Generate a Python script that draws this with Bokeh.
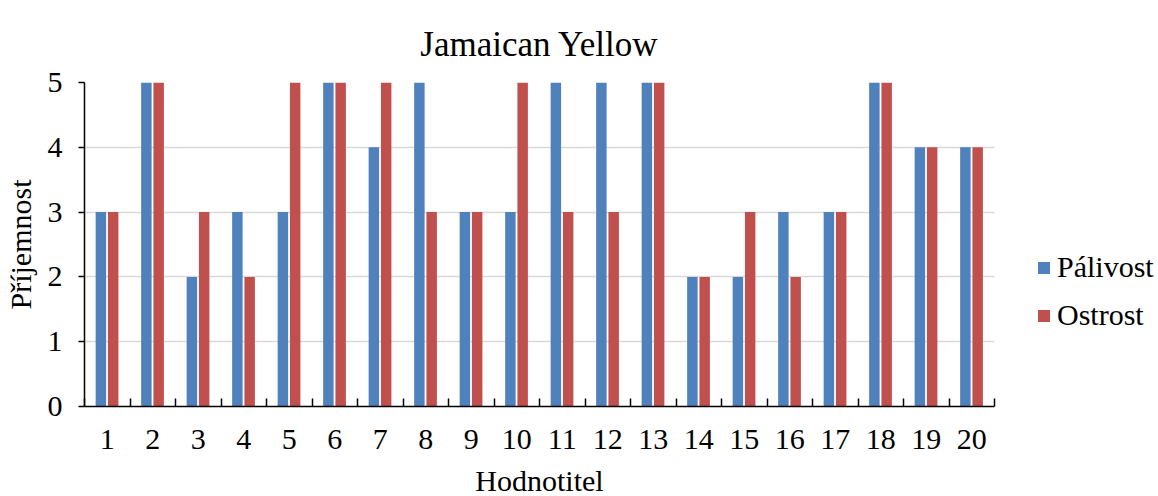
from bokeh.plotting import figure
from bokeh.models import FixedTicker, Legend, LegendItem, ColumnDataSource, Range1d
from bokeh.transform import dodge
from bokeh.embed import file_html
from bokeh.resources import INLINE

categories = [str(i) for i in range(1, 21)]
palivost = [3, 5, 2, 3, 3, 5, 4, 5, 3, 3, 5, 5, 5, 2, 2, 3, 3, 5, 4, 4]
ostrost = [3, 5, 3, 2, 5, 5, 5, 3, 3, 5, 3, 3, 5, 2, 3, 2, 3, 5, 4, 4]
series_names = ["Pálivost", "Ostrost"]
colors = ["#4F81BD", "#C0504D"]
y_ticks = [0, 1, 2, 3, 4, 5]

FONT = "Liberation Serif"

n = len(categories)
xs = list(range(1, n + 1))

p = figure(frame_width=910, frame_height=324, output_backend="svg", toolbar_location=None,
           x_range=Range1d(0.5, n + 0.5), y_range=Range1d(0, 5),
           min_border_left=77, min_border_right=155, min_border_top=82, min_border_bottom=88)

src = ColumnDataSource(dict(x=xs, p=palivost, o=ostrost))
r1 = p.vbar(x=dodge("x", -0.14, range=p.x_range), top="p", width=0.23, source=src,
            fill_color=colors[0], line_color=None)
r2 = p.vbar(x=dodge("x", 0.13, range=p.x_range), top="o", width=0.23, source=src,
            fill_color=colors[1], line_color=None)

p.title.text = "Jamaican Yellow"
p.title.align = "center"
p.title.vertical_align = "top"
p.title.text_font = FONT
p.title.text_font_size = "35px"
p.title.text_font_style = "normal"
p.title.text_color = "black"
p.title.standoff = 34

p.xaxis.ticker = FixedTicker(ticks=xs, minor_ticks=[i + 0.5 for i in range(0, n + 1)])
p.xaxis.major_label_overrides = {i + 1: c for i, c in enumerate(categories)}
p.xaxis.major_tick_in = 0
p.xaxis.major_tick_out = 0
p.xaxis.minor_tick_in = 8
p.xaxis.minor_tick_out = 0
p.xaxis.axis_label = "Hodnotitel"

p.yaxis.ticker = FixedTicker(ticks=y_ticks)
p.yaxis.major_tick_in = 0
p.yaxis.major_tick_out = 6
p.yaxis.minor_tick_in = 0
p.yaxis.minor_tick_out = 0
p.yaxis.axis_label = "Příjemnost"

for ax in (p.xaxis, p.yaxis):
    ax.axis_line_color = "black"
    ax.axis_line_width = 1.5
    ax.major_tick_line_color = "black"
    ax.minor_tick_line_color = "black"
    ax.major_tick_line_width = 1.5
    ax.minor_tick_line_width = 1.5
    ax.major_label_text_font = FONT
    ax.major_label_text_font_size = "30px"
    ax.major_label_text_color = "black"
    ax.axis_label_text_font = FONT
    ax.axis_label_text_font_size = "30px"
    ax.axis_label_text_font_style = "normal"
    ax.axis_label_text_color = "black"

p.xaxis.major_label_standoff = 23
p.xaxis.axis_label_standoff = 12
p.yaxis.major_label_standoff = 16
p.yaxis.axis_label_standoff = 8

p.xgrid.grid_line_color = None
p.ygrid.grid_line_color = "#d9d9d9"
p.ygrid.grid_line_width = 1.5
p.outline_line_color = None

legend = Legend(items=[LegendItem(label=series_names[0], renderers=[r1]),
                       LegendItem(label=series_names[1], renderers=[r2])],
                location=(42, 74), orientation="vertical")
legend.label_text_font = FONT
legend.label_text_font_size = "30px"
legend.label_text_color = "black"
legend.glyph_width = 15
legend.glyph_height = 15
legend.spacing = 14
legend.padding = 0
legend.margin = 0
legend.border_line_color = None
legend.background_fill_alpha = 0
legend.label_standoff = 6
p.add_layout(legend, "right")

open("out.html", "w").write(file_html(p, INLINE))
